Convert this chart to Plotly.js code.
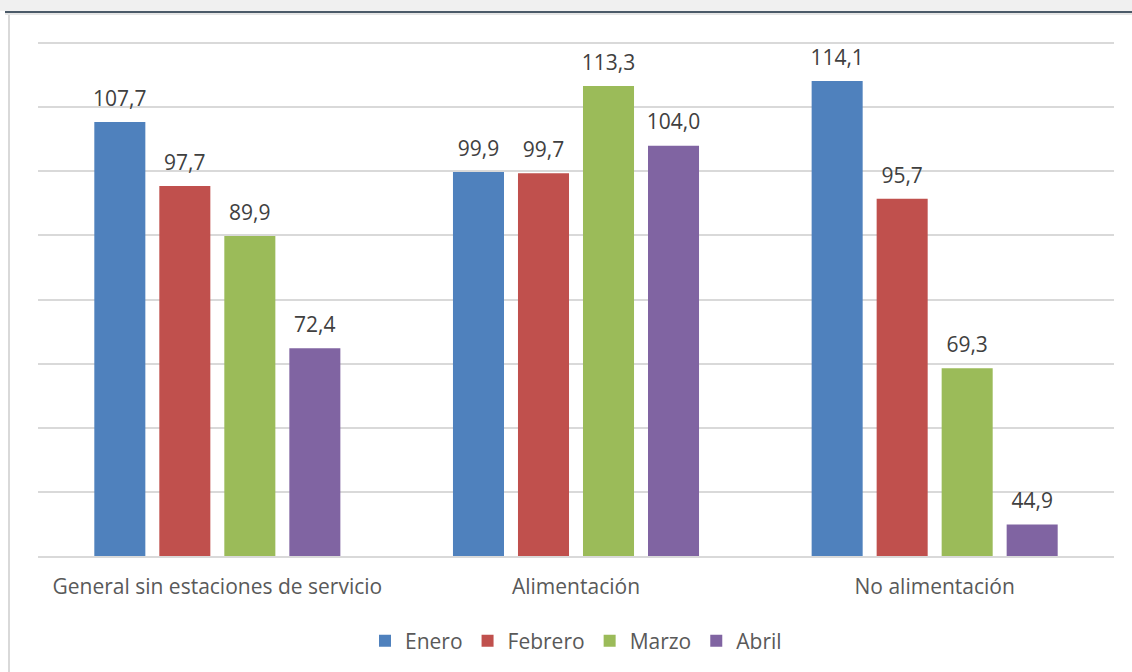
<!DOCTYPE html>
<html>
<head>
<meta charset="utf-8">
<script src="https://cdn.plot.ly/plotly-3.0.1.min.js"></script>
<style>
  html, body { margin: 0; padding: 0; background: #ffffff; }
  #wrap { position: relative; width: 1132px; height: 672px; overflow: hidden; }
  #chart { position: absolute; left: 0; top: 0; width: 1132px; height: 672px; }
  .deco { position: absolute; pointer-events: none; }
</style>
</head>
<body>
<div id="wrap">
  <div id="chart"></div>
  <div class="deco" style="left:0;top:0;width:1132px;height:11px;background:#f0f0f0;"></div>
  <div class="deco" style="left:5px;top:11px;width:1127px;height:2px;background:#4b5a68;"></div>
  <div class="deco" style="left:5px;top:13px;width:1127px;height:2px;background:#e6e6e6;"></div>
  <div class="deco" style="left:8px;top:15px;width:2px;height:657px;background:#d9d9d9;"></div>
</div>
<script>
const categories = ['General sin estaciones de servicio', 'Alimentación', 'No alimentación'];
const seriesNames = ['Enero', 'Febrero', 'Marzo', 'Abril'];
const enero   = [107.7, 99.9, 114.1];
const febrero = [97.7, 99.7, 95.7];
const marzo   = [89.9, 113.3, 69.3];
const abril   = [72.4, 104.0, 44.9];
const colors  = ['#4f81bd', '#c0504d', '#9bbb59', '#8064a2'];

const seriesValues = [enero, febrero, marzo, abril];
const FONT = '"Open Sans", Lato, sans-serif';

const traces = [];
seriesValues.forEach((vals, i) => {
  traces.push({
    type: 'bar',
    name: seriesNames[i],
    x: categories,
    y: vals,
    offsetgroup: 'g' + i,
    marker: { color: colors[i], line: { color: colors[i], width: 0 } },
    hoverinfo: 'x+y+name'
  });
});
seriesValues.forEach((vals, i) => {
  traces.push({
    type: 'scatter',
    mode: 'markers+text',
    x: categories,
    y: vals,
    offsetgroup: 'g' + i,
    showlegend: false,
    hoverinfo: 'skip',
    marker: { size: 16, color: 'rgba(0,0,0,0)' },
    texttemplate: '%{y:.1f}',
    textposition: 'top center',
    textfont: { family: FONT, size: 21, color: '#404040' },
    cliponaxis: false
  });
});

const layout = {
  width: 1132,
  height: 672,
  paper_bgcolor: 'rgba(0,0,0,0)',
  plot_bgcolor: 'rgba(0,0,0,0)',
  margin: { l: 38, r: 18, t: 41, b: 115 },
  barmode: 'group',
  scattermode: 'group',
  bargap: 0.275,
  bargroupgap: 0.215,
  scattergap: 0.275,
  separators: ', ',
  font: { family: FONT, size: 21, color: '#595959' },
  xaxis: {
    type: 'category',
    showgrid: false,
    showline: true,
    linecolor: '#d9d9d9',
    linewidth: 2,
    ticks: '',
    ticklabelstandoff: 11,
    tickfont: { family: FONT, size: 21, color: '#595959' },
    fixedrange: true
  },
  yaxis: {
    range: [40, 120.32],
    dtick: 10,
    tick0: 40,
    showticklabels: false,
    showgrid: true,
    gridcolor: '#d9d9d9',
    gridwidth: 2,
    zeroline: false,
    ticks: '',
    fixedrange: true
  },
  showlegend: true,
  legend: {
    orientation: 'h',
    x: 0.5,
    xanchor: 'center',
    y: -0.163,
    yanchor: 'middle',
    font: { family: FONT, size: 21, color: '#595959' },
    traceorder: 'normal'
  }
};

Plotly.newPlot('chart', traces, layout, { displayModeBar: false, staticPlot: false });
</script>
</body>
</html>
